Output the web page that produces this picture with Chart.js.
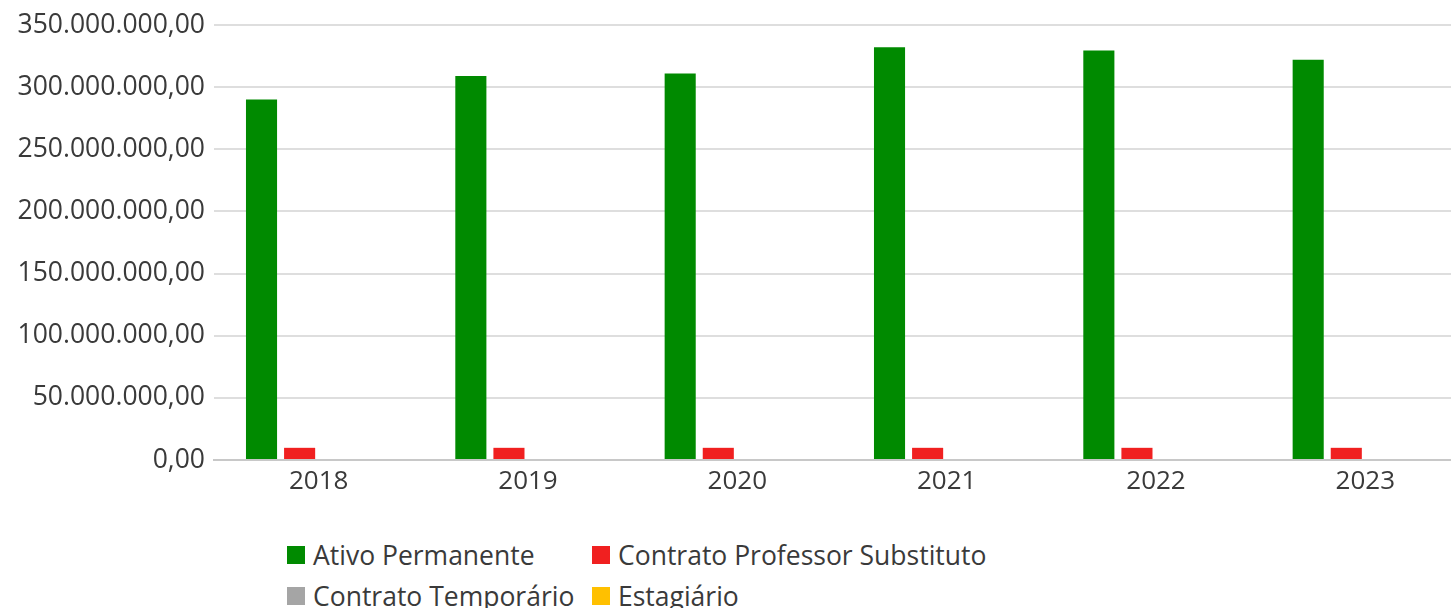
<!DOCTYPE html>
<html lang="pt-BR">

<head>
    <meta charset="UTF-8">
    <title>Despesas com pessoal</title>
    <style>
        body { margin: 0; background: #fff; overflow: hidden; width: 1451px; height: 608px; }
        .campo_grafico { position: absolute; left: 0; top: 0; width: 1470px; height: 500px; }
        #legenda {
            position: absolute; left: 287px; top: 536px;
            display: grid; grid-template-columns: 305px auto; row-gap: 3px;
            font-family: "Open Sans", sans-serif; font-size: 26.5px; color: #3a3a3a;
        }
        .item_legenda { display: flex; align-items: center; height: 38px; white-space: nowrap; }
        .caixa { width: 18px; height: 18px; margin-right: 8px; }
    </style>
</head>

<body>
    <div class="campo_grafico">
        <canvas id="graficoPessoal"></canvas>
    </div>
    <div id="legenda"></div>
</body>

</html>
<script src="https://cdn.jsdelivr.net/npm/chart.js"></script>

<script>
    // dados
    const anos = ['2018', '2019', '2020', '2021', '2022', '2023']
    const ativoPermanente = [290000000, 309000000, 311000000, 332000000, 329500000, 322000000]
    const professorSubstituto = [9800000, 9800000, 9800000, 9800000, 9800000, 9800000]
    const contratoTemporario = [0, 0, 0, 0, 0, 0]
    const estagiario = [0, 0, 0, 0, 0, 0]
    const nomesSeries = ['Ativo Permanente', 'Contrato Professor Substituto', 'Contrato Temporário', 'Estagiário']
    const coresSeries = ['#008a00', '#f02020', '#a5a5a5', '#ffc000']

    // formata no padrão 350.000.000,00
    function formatarValor(valor) {
        const inteiro = Math.round(valor).toString().replace(/\B(?=(\d{3})+(?!\d))/g, '.')
        return inteiro + ',00'
    }

    const ctx = document.getElementById('graficoPessoal')

    const grafico = new Chart(ctx, {
        type: 'bar',
        data: {
            labels: anos,
            datasets: [ativoPermanente, professorSubstituto, contratoTemporario, estagiario].map(function (valores, i) {
                return {
                    label: nomesSeries[i],
                    data: valores,
                    backgroundColor: coresSeries[i],
                    borderWidth: 0,
                    categoryPercentage: 0.728,
                    barPercentage: 0.816
                }
            })
        },
        options: {
            responsive: true,
            maintainAspectRatio: false,
            animation: false,
            layout: { padding: { top: 25, right: 0, left: 0, bottom: 0 } },
            plugins: {
                legend: { display: false },
                tooltip: { enabled: false }
            },
            scales: {
                x: {
                    grid: { display: false, drawTicks: false },
                    border: { display: true, color: '#c8c8c8', width: 2 },
                    ticks: { color: '#3a3a3a', font: { family: '"Open Sans", sans-serif', size: 26 }, padding: 6 },
                    afterFit: function (escala) { escala.height = 40 }
                },
                y: {
                    min: 0,
                    max: 350000000,
                    grid: { color: '#dedede', lineWidth: 2, drawTicks: false },
                    border: { display: false },
                    ticks: {
                        stepSize: 50000000,
                        color: '#3a3a3a',
                        font: { family: '"Open Sans", sans-serif', size: 26.5 },
                        padding: 9,
                        callback: function (valor) { return formatarValor(valor) }
                    },
                    afterFit: function (escala) { escala.width = 214 }
                }
            }
        }
    });

    // legenda em html, montada a partir dos datasets do gráfico
    const legenda = document.getElementById('legenda')
    grafico.data.datasets.forEach(function (ds) {
        const item = document.createElement('div')
        item.className = 'item_legenda'
        item.innerHTML = '<span class="caixa" style="background:' + ds.backgroundColor + '"></span>' + ds.label
        legenda.appendChild(item)
    })
</script>
